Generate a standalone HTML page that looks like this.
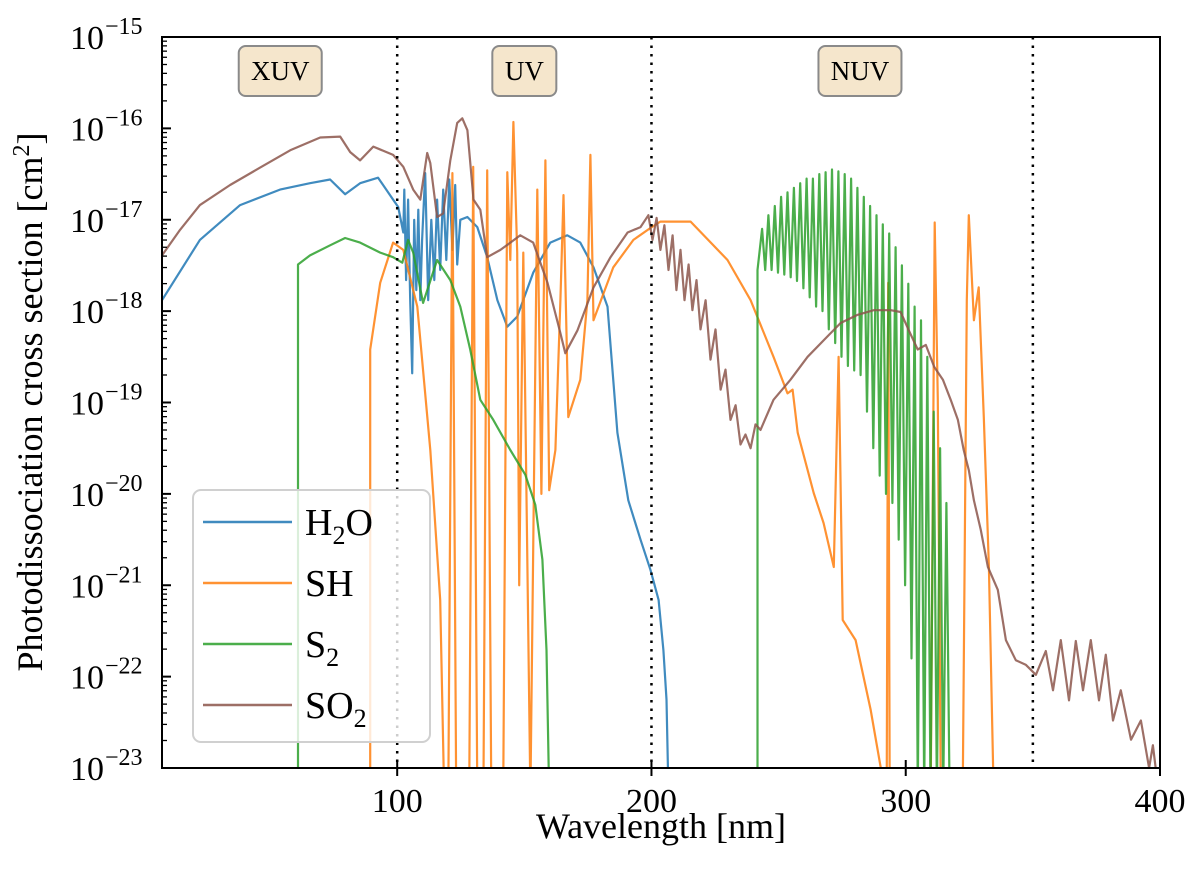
<!DOCTYPE html>
<html><head><meta charset="utf-8"><style>
html,body{margin:0;padding:0;background:#fff;}
svg{display:block;font-family:"Liberation Serif",serif;}
</style></head><body>
<svg id="chart" width="1200" height="878" viewBox="0 0 1200 878" xmlns="http://www.w3.org/2000/svg"></svg>
<script>
const xTicks=[100,200,300,400];
const yTickExps=[-15,-16,-17,-18,-19,-20,-21,-22,-23];
const regionBounds=[100,200,350];
const regionLabels=["XUV","UV","NUV"];
const regionCenters=[54,150,282];
const seriesNames=["H2O","SH","S2","SO2"];
const h2oNm=[7.5,22.4,38.2,53.9,65.7,73.6,79.5,85.4,92.5,98.4,100.4,102.4,102.8,103.5,104.3,105.1,105.9,106.7,107.5,108.3,109.1,109.8,111,112.2,113.4,114.6,115.7,116.9,118.1,119.3,120.5,121.7,122.8,123.6,124.8,127.6,131.5,135.4,139.4,143.3,147.2,153.5,160.2,166.9,172,177.2,182.7,186.6,190.9,195.7,199.6,202.8,204.7,205.9,206.7];
const h2oLogSigma=[-17.88,-17.22,-16.84,-16.67,-16.6,-16.56,-16.72,-16.6,-16.54,-16.78,-16.86,-17.14,-16.67,-17.66,-16.78,-17.88,-18.68,-17.0,-17.77,-16.89,-17.88,-17.22,-16.49,-17.88,-17.0,-17.66,-16.78,-17.55,-16.67,-17.44,-16.56,-17.33,-16.62,-17.49,-17.0,-16.97,-17.08,-17.41,-17.88,-18.17,-18.06,-17.58,-17.25,-17.17,-17.25,-17.52,-17.95,-19.33,-20.07,-20.5,-20.83,-21.16,-21.71,-22.25,-23.3];
const shNm=[89.4,89.4,93.3,98.4,102.4,107.9,113,116.9,118.5,120.1,121.7,123.2,128.3,129.9,131.5,133.9,135.4,137,141.7,143.3,144.5,145.7,147.2,148,149.6,152.4,155.1,156.7,158.3,159.8,162.2,164.2,165.4,167.3,172,174.8,176,177.2,185,192.9,199.6,203.5,215.4,229.9,239,248,253.5,255.5,257.5,263.8,267.7,271.7,273.6,275.2,280.3,286.2,290.2,291.7,292.5,293.1,293.7,309.8,311.4,312.6,313.8,322.4,324,324.8,326.8,328.7,330.7,332.7,334.6];
const shLogSigma=[-23.3,-18.42,-17.69,-17.25,-17.33,-17.95,-19.52,-21.16,-23.3,-23.3,-16.49,-23.3,-23.3,-16.42,-23.3,-23.3,-16.46,-23.3,-23.3,-16.48,-17.44,-15.93,-17.36,-21.0,-17.36,-23.3,-16.67,-20.0,-16.35,-19.96,-19.52,-17.88,-16.73,-19.16,-18.75,-17.88,-16.29,-18.1,-17.52,-17.22,-17.09,-17.02,-17.02,-17.44,-17.88,-18.5,-18.9,-18.86,-19.33,-19.99,-20.32,-20.8,-18.5,-21.38,-21.6,-22.36,-23.0,-23.3,-23.3,-17.69,-23.3,-23.3,-17.03,-18.97,-23.3,-23.3,-17.88,-16.95,-18.1,-17.74,-19.16,-20.8,-23.3];
const s2Nm=[61,61,65.7,73.6,79.5,85.4,93.3,98.4,102,104.3,106.3,110.2,115.7,120.9,124.8,128.7,132.7,137.8,144.5,150.4,154.3,157.1,158.7,159.8,241.7,241.7,243.5,244.75,246,247.25,248.5,249.75,251,252.25,253.5,254.75,256,257.25,258.5,259.75,261,262.25,263.5,264.75,266,267.25,268.5,269.75,271,272.25,273.5,274.75,276,277.25,278.5,279.75,281,282.25,283.5,284.75,286,287.25,288.5,289.75,291,292.25,293.5,294.75,296,297.25,298.5,299.75,301,302.25,303.5,304.75,306,307.25,308.5,309.75,311,312.25,313.5,314.75,316,317.25];
const s2LogSigma=[-23.3,-17.49,-17.39,-17.28,-17.2,-17.25,-17.36,-17.41,-17.47,-17.22,-17.36,-17.91,-17.44,-17.66,-17.95,-18.42,-18.97,-19.19,-19.52,-19.79,-20.12,-20.72,-21.71,-23.3,-23.3,-17.55,-17.1,-17.55,-16.95,-17.55,-16.85,-17.58,-16.75,-17.6,-16.7,-17.63,-16.65,-17.67,-16.6,-17.75,-16.55,-17.85,-16.55,-17.95,-16.5,-18.0,-16.48,-18.2,-16.45,-18.35,-16.47,-18.5,-16.5,-18.6,-16.55,-18.65,-16.65,-18.7,-16.75,-19.1,-16.85,-19.5,-16.95,-19.8,-17.05,-20.0,-17.15,-20.1,-17.3,-20.5,-17.5,-21.0,-17.7,-21.8,-17.95,-23.3,-18.1,-23.3,-18.5,-23.3,-19.1,-23.3,-19.5,-23.3,-20.1,-23.3];
const so2Nm=[7.5,14.6,22.4,34.3,46,57.9,69.7,77.6,81.5,85.4,90.6,98.4,102.4,106.3,109.1,111.8,113,115.7,118.1,120.9,123.6,125.6,127.6,130,132.7,135.4,140.6,148.4,153.5,159.1,164.2,166.1,170.9,177.2,183.9,190.6,195.7,198.8,200.4,202,203.5,205.1,206.7,208.3,209.8,211.4,213,214.6,216.1,217.7,219.3,221.3,223.2,225.2,227.2,229.1,231.1,233.1,235,237,239,240.9,242.9,248,254.7,261.4,267.7,274.4,281.1,287.4,294.1,298,301.2,304.7,307.9,311.2,314.6,317.7,320.5,322.8,324.8,326.8,329.5,332.3,336.2,339.4,343.3,347.2,351.2,355.1,357.9,361,364.2,366.9,369.7,372.8,376,378.7,381.5,384.6,388.6,392.5,395.7,397.2,399.6];
const so2LogSigma=[-17.39,-17.11,-16.84,-16.62,-16.43,-16.24,-16.1,-16.09,-16.26,-16.35,-16.2,-16.29,-16.42,-16.67,-16.78,-16.27,-16.38,-16.97,-16.93,-16.35,-15.94,-15.89,-16.02,-16.78,-16.89,-17.41,-17.33,-17.17,-17.25,-17.69,-18.24,-18.46,-18.21,-17.74,-17.41,-17.14,-17.08,-16.95,-17.22,-16.98,-17.33,-17.06,-17.55,-17.17,-17.77,-17.33,-17.88,-17.49,-17.99,-17.66,-18.2,-17.88,-18.53,-18.2,-18.86,-18.64,-19.19,-19.03,-19.46,-19.35,-19.5,-19.24,-19.3,-18.97,-18.75,-18.5,-18.32,-18.13,-18.04,-17.99,-17.99,-18.01,-18.21,-18.42,-18.37,-18.61,-18.75,-18.97,-19.19,-19.52,-19.74,-20.07,-20.39,-20.8,-21.05,-21.6,-21.82,-21.87,-21.98,-21.72,-22.15,-21.6,-22.26,-21.61,-22.15,-21.6,-22.26,-21.76,-22.48,-22.15,-22.69,-22.48,-23.0,-22.75,-23.3];
const SVGNS="http://www.w3.org/2000/svg";
const svg=document.getElementById('chart');
const L=162,R=1160,T=37,B=768,XMIN=7.5,XMAX=400;
function xs(v){return L+(v-XMIN)/(XMAX-XMIN)*(R-L);}
function ys(e){return T+(-15-e)/8*(B-T);}
function mk(tag,attrs,parent){const el=document.createElementNS(SVGNS,tag);for(const k in attrs)el.setAttribute(k,attrs[k]);(parent||svg).appendChild(el);return el;}
const defs=mk('defs',{});const cp=mk('clipPath',{id:'clip'},defs);mk('rect',{x:L,y:T,width:R-L,height:B-T},cp);
const plot=mk('g',{'clip-path':'url(#clip)'});


const colors=["#1f77b4","#ff7f0e","#2ca02c","#8c564b"];
const allNm=[h2oNm,shNm,s2Nm,so2Nm],allLog=[h2oLogSigma,shLogSigma,s2LogSigma,so2LogSigma];
const sNames=['h2o-line','sh-line','s2-line','so2-line'];
for(let s=0;s<4;s++){
 const d=allNm[s].map((v,i)=>(i?'L':'M')+xs(v).toFixed(1)+' '+ys(allLog[s][i]).toFixed(1)).join(' ');
 const p=mk('path',{d:d,fill:'none',stroke:colors[s],'stroke-width':2.2,'stroke-opacity':0.85,'stroke-linejoin':'round'},plot);
 
 
}
regionBounds.forEach(b=>{const l=mk('line',{x1:xs(b),x2:xs(b),y1:T,y2:B,stroke:'#000','stroke-width':2.5,'stroke-dasharray':'2.5,6'});
 
 });
regionLabels.forEach((t,i)=>{const cx=xs(regionCenters[i]);const w=t.length*19+26;
 const g=mk('g',{});
 
 
 mk('rect',{x:cx-w/2,y:46,width:w,height:50,rx:7,fill:'#f5e6cc',stroke:'#8a8a8a','stroke-width':2},g);
 const tx=mk('text',{x:cx,y:80,'text-anchor':'middle','font-size':27},g);tx.textContent=t;});
const fr=mk('rect',{x:L,y:T,width:R-L,height:B-T,fill:'none',stroke:'#000','stroke-width':2});


xTicks.forEach(v=>{const x=xs(v);mk('line',{x1:x,x2:x,y1:B-8,y2:B+8,stroke:'#000','stroke-width':2});
 const t=mk('text',{x:x,y:B+44,'text-anchor':'middle','font-size':34});t.textContent=v;
 
 });
yTickExps.forEach(e=>{const y=ys(e);mk('line',{x1:L,x2:L+9,y1:y,y2:y,stroke:'#000','stroke-width':2});
 if(e>-23){for(let m=2;m<10;m++){const ym=ys(e-1+Math.log10(m));mk('line',{x1:L,x2:L+5,y1:ym,y2:ym,stroke:'#000','stroke-width':1.3});}}
 const t=mk('text',{x:104,y:y+12,'text-anchor':'end','font-size':34});t.textContent='10';
 
 
 const sp=mk('text',{x:105,y:y-3,'font-size':24});sp.textContent='\u2212'+(-e);});
const xl=mk('text',{x:661,y:838,'text-anchor':'middle','font-size':36});xl.textContent='Wavelength [nm]';


const yl=mk('text',{x:0,y:0,'text-anchor':'middle','font-size':36,transform:'translate(42,402) rotate(-90)'});


yl.innerHTML='Photodissociation cross section [cm<tspan dy="-13" font-size="24">2</tspan><tspan dy="13">]</tspan>';
const lg=mk('g',{});


mk('rect',{x:193,y:490,width:237,height:252,rx:8,fill:'#fff','fill-opacity':0.8,stroke:'#d0d0d0','stroke-width':2},lg);
const labHtml=['H<tspan dy="9" font-size="26">2</tspan><tspan dy="-9">O</tspan>','SH','S<tspan dy="9" font-size="26">2</tspan>','SO<tspan dy="9" font-size="26">2</tspan>'];
seriesNames.forEach((n,i)=>{const y=522+i*61;const e=mk('g',{},lg);
 
 
 mk('line',{x1:203,x2:292,y1:y,y2:y,stroke:colors[i],'stroke-width':2.5,'stroke-opacity':0.85},e);
 const t=mk('text',{x:305,y:y+13,'font-size':38},e);t.innerHTML=labHtml[i];});
</script>
</body></html>
